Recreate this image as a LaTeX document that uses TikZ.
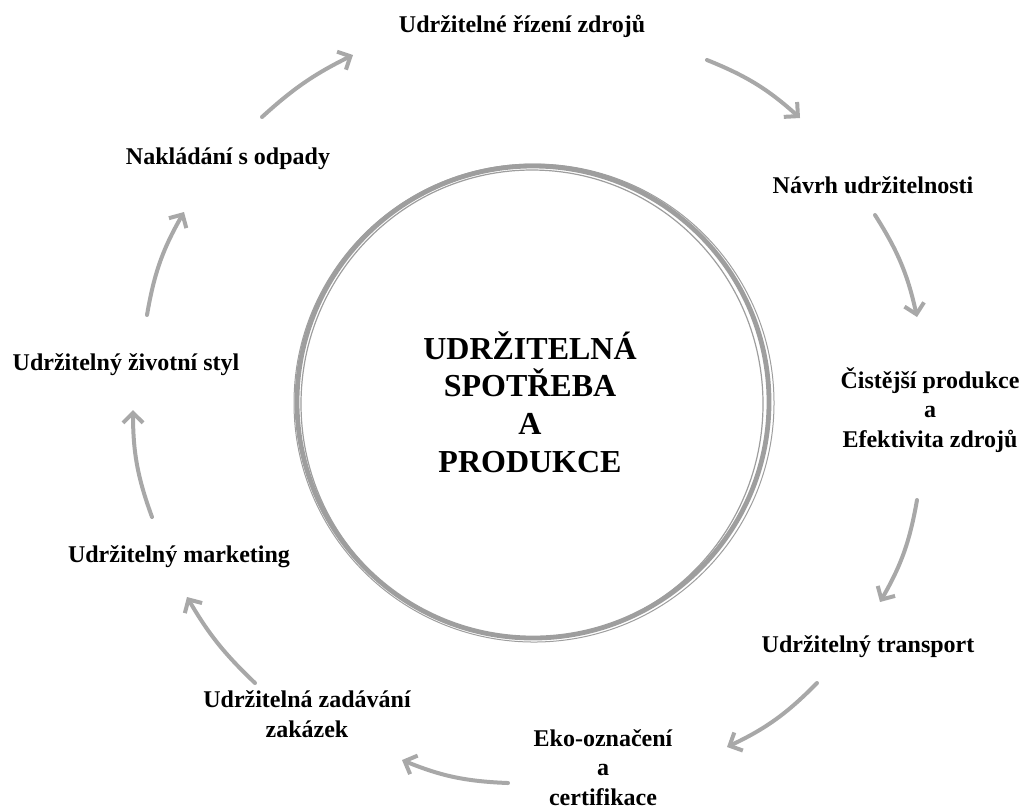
\documentclass[tikz,border=0pt]{standalone}
\usepackage{fontspec}
\setmainfont{Liberation Serif}
\usetikzlibrary{arrows.meta}
\definecolor{ringgray}{RGB}{158,158,158}
\definecolor{arrgray}{RGB}{168,168,168}

\begin{document}
\begin{tikzpicture}[x=0.5pt, y=-0.5pt,
    lbl/.style={font=\bfseries\fontsize{12}{14.75}\selectfont, align=center, inner sep=0pt, anchor=base},
    hub/.style={font=\bfseries\fontsize{16}{18.9}\selectfont, align=center, inner sep=0pt},
    ring/.style={draw=ringgray, line width=2.4pt},
    arr/.style={draw=arrgray, line width=2pt, line cap=round, -{Straight Barb[length=5pt,width=10pt]}}]
  \useasboundingbox (0,0) rectangle (1026,811);
  % ring in the middle
  \draw[ring] (533,402) circle (236);
  \draw[ringgray, line width=0.6pt] (532,404) circle [x radius=231, y radius=234];
  \draw[ringgray, line width=0.5pt] (534,403) circle [x radius=240, y radius=239];
  \node[hub] (core) at (530,402) {UDRŽITELNÁ\\SPOTŘEBA\\A\\PRODUKCE};

  % labels round the ring (base = last line)
  \node[lbl] (rizeni) at (522,32) {Udržitelné řízení zdrojů};
  \node[lbl] (navrh) at (873,193) {Návrh udržitelnosti};
  \node[lbl] (cisti) at (930,447) {Čistější produkce\\a\\Efektivita zdrojů};
  \node[lbl] (transport) at (868,652) {Udržitelný transport};
  \node[lbl] (eko) at (603,805) {Eko-označení\\a\\certifikace};
  \node[lbl] (zakazky) at (307,737) {Udržitelná zadávání\\zakázek};
  \node[lbl] (marketing) at (179,562) {Udržitelný marketing};
  \node[lbl] (styl) at (126,370) {Udržitelný životní styl};
  \node[lbl] (odpady) at (228,164) {Nakládání s odpady};

  % arrow ends
  \coordinate (a1) at (262,117); \coordinate (b1) at (353,55);
  \coordinate (a2) at (707,60);  \coordinate (b2) at (800,118);
  \coordinate (a3) at (875,215); \coordinate (b3) at (917,317);
  \coordinate (a4) at (917,500); \coordinate (b4) at (880,602);
  \coordinate (a5) at (817,683); \coordinate (b5) at (727,747);
  \coordinate (a6) at (508,783); \coordinate (b6) at (402,760);
  \coordinate (a7) at (255,683); \coordinate (b7) at (187,597);
  \coordinate (a8) at (152,517); \coordinate (b8) at (133,410);
  \coordinate (a9) at (147,315); \coordinate (b9) at (184,212);

  \draw[arr] (a1) to[bend left=8] (b1);
  \draw[arr] (a2) to[bend left=10] (b2);
  \draw[arr] (a3) to[bend left=10] (b3);
  \draw[arr] (a4) to[bend left=10] (b4);
  \draw[arr] (a5) to[bend left=10] (b5);
  \draw[arr] (a6) to[bend left=10] (b6);
  \draw[arr] (a7) to[bend left=8] (b7);
  \draw[arr] (a8) to[bend left=10] (b8);
  \draw[arr] (a9) to[bend left=10] (b9);
\end{tikzpicture}
\end{document}
